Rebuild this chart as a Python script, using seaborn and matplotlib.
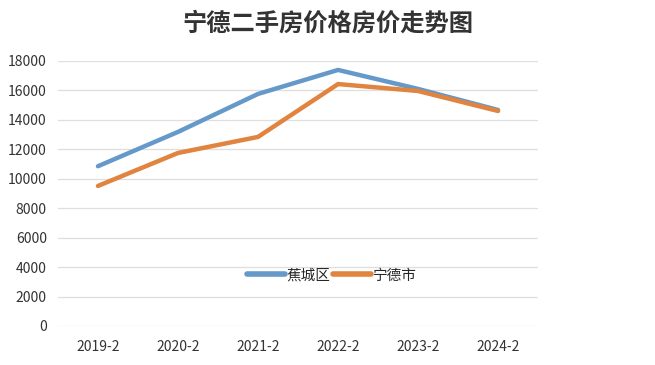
import matplotlib
matplotlib.use("Agg")
import matplotlib.pyplot as plt
import seaborn as sns
import pandas as pd

# data
YEARS       = ["2019-2", "2020-2", "2021-2", "2022-2", "2023-2", "2024-2"]
JIAOCHENG   = [10850, 13180, 15760, 17390, 16100, 14670]
NINGDE      = [9510, 11750, 12840, 16430, 15960, 14600]
SERIES      = ["蕉城区", "宁德市"]
COLORS      = ["#6499c9", "#e0843f"]
TITLE       = "宁德二手房价格房价走势图"

df = pd.DataFrame({"年份": YEARS * 2,
                   "价格": JIAOCHENG + NINGDE,
                   "区域": [SERIES[0]] * len(YEARS) + [SERIES[1]] * len(YEARS)})

sns.set_theme(style="white")
plt.rcParams["font.family"] = ["Noto Sans CJK SC", "DejaVu Sans"]

fig = plt.figure(figsize=(6.55, 3.65), dpi=100, facecolor="white")
ax = fig.add_axes([0.0885, 0.107, 0.733, 0.726])

sns.lineplot(data=df, x="年份", y="价格", hue="区域", palette=COLORS,
             linewidth=3.2, ax=ax, sort=False)

ax.set_xlim(-0.5, 5.5)
ax.set_ylim(0, 18000)
ax.set_yticks(range(0, 18001, 2000))
ax.grid(axis="y", color="#dedede", lw=0.9)
ax.set_axisbelow(True)
for s in ax.spines.values():
    s.set_visible(False)
ax.set_xlabel("")
ax.set_ylabel("")
ax.tick_params(axis="both", length=0, labelsize=10, colors="#333333")
ax.tick_params(axis="x", pad=10)
ax.tick_params(axis="y", pad=8)

leg = ax.legend(loc="center", bbox_to_anchor=(0.57, 0.19), ncol=2,
                frameon=False, fontsize=10.5, handlelength=2.6,
                handletextpad=0.1, columnspacing=0.2)
for h in leg.get_lines():
    h.set_linewidth(4)

fig.text(0.5, 0.935, TITLE, ha="center", va="center", fontsize=17.5,
         fontweight="bold", color="#333333")

fig.savefig("out.png", dpi=100, facecolor="white")
